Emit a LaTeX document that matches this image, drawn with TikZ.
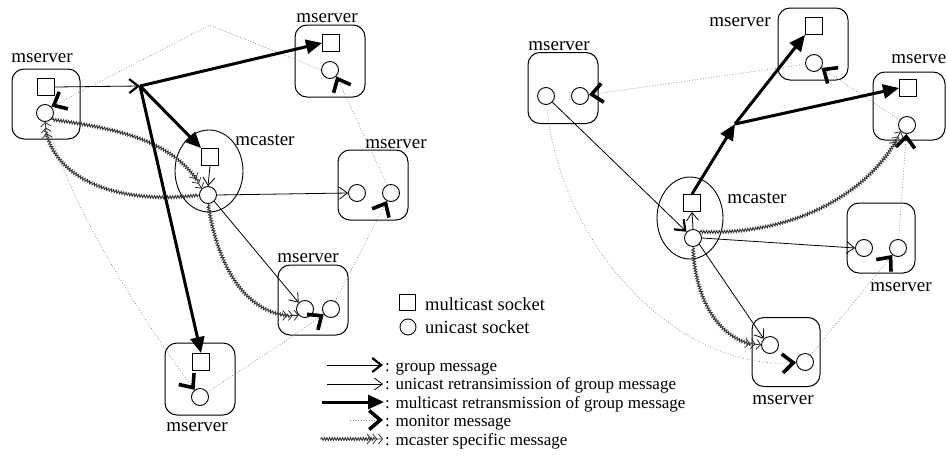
\documentclass[tikz,border=0pt]{standalone}
\usepackage{fontspec}
\setmainfont{Liberation Serif}
\usetikzlibrary{arrows.meta,shapes.geometric,decorations.pathmorphing}
\begin{document}
\begin{tikzpicture}[x=1pt,y=-1pt,
  box/.style={draw, line width=1pt, rounded corners=12pt, inner sep=0pt},
  sq/.style={draw, line width=0.9pt, minimum size=17pt, inner sep=0pt},
  ci/.style={draw, circle, line width=0.9pt, minimum size=17pt, inner sep=0pt},
  mc/.style={draw, ellipse, line width=0.9pt, inner sep=0pt},
  lbl/.style={font=\fontsize{19}{21}\selectfont, inner sep=0pt, anchor=base},
  legs/.style={font=\fontsize{18.5}{20}\selectfont, inner sep=0pt, anchor=base west},
  leg/.style={font=\fontsize{17}{19}\selectfont, inner sep=0pt, anchor=base west},
  grp/.style={line width=0.8pt, -{Straight Barb[length=9pt,width=14pt,line width=2.2pt]}},
  uni/.style={line width=0.8pt, -{Straight Barb[length=8pt,width=12pt,line width=0.8pt]}},
  mul/.style={line width=3pt, -{Triangle[length=16pt,width=14pt]}},
  mon/.style={dotted, black!50, line width=0.7pt, -{Straight Barb[length=11pt,width=19pt,line width=3.6pt,color=black]}},
  spec/.style={draw=black!80, line width=0.9pt, decorate,
    decoration={snake, amplitude=1.4pt, segment length=2.6pt, pre length=1pt, post length=8pt},
    -{Straight Barb[length=4pt,width=10pt,line width=0.8pt,sep=0.8pt]Straight Barb[length=4pt,width=10pt,line width=0.8pt,sep=0.8pt]Straight Barb[length=4pt,width=10pt,line width=0.8pt]}}
]
\useasboundingbox (0,0) rectangle (947,463);
\fill[white] (0,0) rectangle (947,463);

% ---------------- left diagram ----------------
\node[box, minimum width=68pt, minimum height=70pt] (bA) at (46,104) {};
\node[lbl] (lA) at (42,62) {mserver};
\node[sq] (sA) at (46,87) {};
\node[ci] (cA) at (45,113) {};

\node[box, minimum width=70pt, minimum height=72pt] (bT1) at (330,61) {};
\node[lbl] (lT1) at (327,23) {mserver};
\node[sq] (sT1) at (331,43) {};
\node[ci] (cT1) at (330,70) {};

\node[mc, minimum width=68pt, minimum height=82pt] (eM) at (209,171) {};
\node[lbl] (lM) at (265,145) {mcaster};
\node[sq] (sM) at (210,157) {};
\node[ci] (cM) at (208,195) {};

\node[box, minimum width=70pt, minimum height=70pt] (bR1) at (373,185) {};
\node[lbl] (lR1) at (396,148) {mserver};
\node[ci] (cR1a) at (357,193) {};
\node[ci] (cR1b) at (391,193) {};

\node[box, minimum width=70pt, minimum height=70pt] (bR2) at (313,300) {};
\node[lbl] (lR2) at (308,262) {mserver};
\node[ci] (cR2a) at (305,309) {};
\node[ci] (cR2b) at (331,309) {};

\node[box, minimum width=70pt, minimum height=72pt] (bB) at (200,379) {};
\node[lbl] (lB) at (197,431) {mserver};
\node[sq] (sB) at (201,362) {};
\node[ci] (cB) at (200,397) {};

\coordinate (J) at (140,86);
\coordinate (pk) at (210,25);
\coordinate (bend) at (290,338);

% monitor messages
\draw[mon] (cT1.west) -- (pk) -- (cA.north east);
\draw[mon] (cR1b) -- (cT1.south east);
\draw[mon] (cR2b) -- (cR1b);
\draw[mon] (cB) -- (bend) -- (cR2b);
\draw[mon] (cA) .. controls (70,210) and (150,330) .. (cB);

% mcaster specific
\draw[spec] (cA.south east) .. controls (110,128) and (175,138) .. (cM.north west);
\draw[spec] (cM.west) .. controls (120,205) and (50,180) .. (cA.south);
\draw[spec] (cM.south) .. controls (220,280) and (255,318) .. (cR2a.south west);

% group / multicast / unicast
\draw[grp] (sA.east) -- (J);
\draw[mul] (J) -- (sT1.west);
\draw[mul] (J) -- (sM.north west);
\draw[mul] (J) -- (sB.north);
\draw[uni] (sM.south) -- (cM.north);
\draw[uni] (cM.east) -- (cR1a.west);
\draw[uni] (cM.south east) -- (cR2a.north west);

% ---------------- right diagram ----------------
\node[box, minimum width=70pt, minimum height=71pt] (bL) at (563,88) {};
\node[lbl] (lL) at (559,50) {mserver};
\node[ci] (cLa) at (546,96) {};
\node[ci] (cLb) at (580,96) {};

\node[box, minimum width=70pt, minimum height=72pt] (bT) at (813,44) {};
\node[lbl] (lT) at (740,27) {mserver};
\node[sq] (sT) at (814,26) {};
\node[ci] (cT) at (814,63) {};

\node[box, minimum width=72pt, minimum height=68pt] (bQ) at (909,106) {};
\node[lbl] (lQ) at (922,63) {mserver};
\node[sq] (sQ) at (908,88) {};
\node[ci] (cQ) at (907,125) {};

\node[mc, minimum width=66pt, minimum height=82pt] (eN) at (690,218) {};
\node[lbl] (lN) at (757,203) {mcaster};
\node[sq] (sN) at (692,203) {};
\node[ci] (cN) at (693,238) {};

\node[box, minimum width=68pt, minimum height=70pt] (bU) at (881,238) {};
\node[lbl] (lU) at (901,291) {mserver};
\node[ci] (cUa) at (864,248) {};
\node[ci] (cUb) at (898,248) {};

\node[box, minimum width=68pt, minimum height=69pt] (bV) at (786,352) {};
\node[lbl] (lV) at (783,404) {mserver};
\node[ci] (cVa) at (770,345) {};
\node[ci] (cVb) at (805,362) {};

\coordinate (J2) at (735,124);

% monitor messages
\draw[mon] (cT) -- (cLb);
\draw[mon] (cQ) -- (cT);
\draw[mon] (cUb) -- (cQ);
\draw[mon] (cVb) -- (cUb);
\draw[mon] (cLa) .. controls (560,250) and (680,370) .. (cVb);

% mcaster specific
\draw[spec] (cN.north east) .. controls (790,236) and (870,195) .. (cQ.south west);
\draw[spec] (cN.south) .. controls (695,300) and (720,342) .. (cVa.west);

% group / multicast / unicast
\draw[grp] (cLa) -- (cN);
\draw[uni] (cN.north) -- (sN.south);
\draw[mul] (sN.north) -- (J2);
\draw[mul] (J2) -- (sT.south west);
\draw[mul] (J2) -- (sQ.west);
\draw[uni] (cN.east) -- (cUa.west);
\draw[uni] (cN.south east) -- (cVa.north west);

% ---------------- legend ----------------
\node[sq, minimum size=16pt] (lgsq) at (407,302) {};
\node[legs] (lgsqt) at (425,310) {multicast socket};
\node[ci, minimum size=16pt] (lgci) at (408,327) {};
\node[legs] (lgcit) at (425,333) {unicast socket};

\coordinate (g0) at (327,365); \coordinate (g1) at (383,365);
\node[leg] (gt) at (385,371) {: group message};
\draw[grp] (g0) -- (g1);

\coordinate (u0) at (327,384); \coordinate (u1) at (383,384);
\node[leg] (ut) at (385,389) {: unicast retransimission of group message};
\draw[uni] (u0) -- (u1);

\coordinate (m0) at (322,402); \coordinate (m1) at (384,402);
\node[leg] (mt) at (385,408) {: multicast retransmission of group message};
\draw[mul] (m0) -- (m1);

\coordinate (o0) at (350,420); \coordinate (o1) at (383,420);
\node[leg] (ot) at (385,426) {: monitor message};
\draw[mon] (o0) -- (o1);

\coordinate (s0) at (320,439); \coordinate (s1) at (383,439);
\node[leg] (st) at (385,445) {: mcaster specific message};
\draw[spec] (s0) -- (s1);
\end{tikzpicture}
\end{document}
